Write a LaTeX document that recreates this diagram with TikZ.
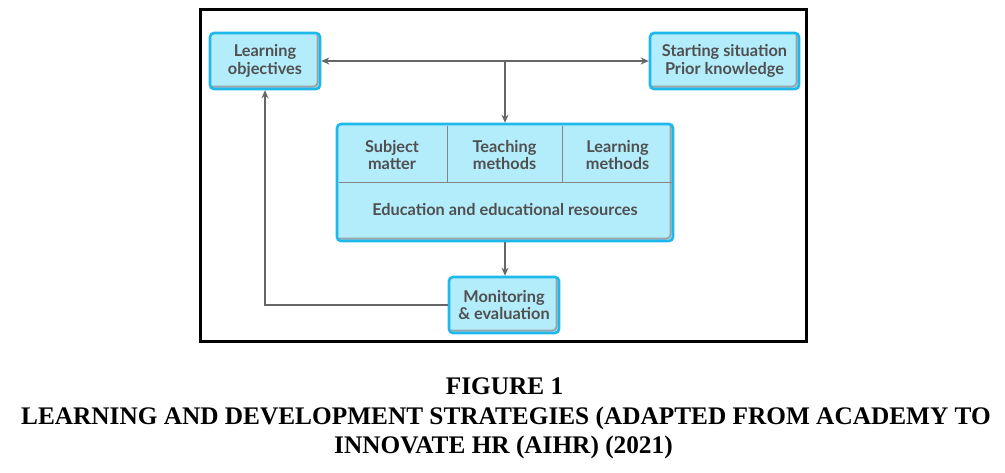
\documentclass[tikz,border=0pt]{standalone}
\usepackage{fontspec}
\setmainfont{Liberation Serif}
\newfontfamily\latofont{Lato}
\usetikzlibrary{arrows.meta}
\definecolor{boxedge}{HTML}{1FB8EC}
\definecolor{boxfill}{HTML}{B3ECFB}
\definecolor{txtgray}{HTML}{505050}
\definecolor{linegray}{HTML}{666666}
\definecolor{shadowgray}{HTML}{9AA6AA}
\tikzset{
  box/.style={rectangle, rounded corners=4pt, draw=boxedge, line width=2.6pt, fill=boxfill,
    inner sep=0pt, align=center, text=txtgray, font=\latofont\bfseries\fontsize{16.3}{17.5}\selectfont,
    path picture={\draw[shadowgray, line width=2pt]
      ([xshift=1pt,yshift=2.4pt]path picture bounding box.south west) --
      ([xshift=-2.4pt,yshift=2.4pt]path picture bounding box.south east) --
      ([xshift=-2.4pt,yshift=-1pt]path picture bounding box.north east);}},
  lbl/.style={inner sep=0pt, align=center, text=txtgray, font=\latofont\bfseries\fontsize{16.3}{17.5}\selectfont},
  conn/.style={linegray, line width=1.3pt},
  tip/.style={-{Stealth[length=8pt,width=7pt]}},
  divider/.style={linegray!80, line width=1pt},
  captext/.style={inner sep=0pt, font=\bfseries\fontsize{25.3}{30}\selectfont, anchor=base}
}
\begin{document}
\begin{tikzpicture}[x=1pt,y=-1pt]
\useasboundingbox (0,0) rectangle (1005,472);
\draw[line width=3pt] (200,9.5) rectangle (806.5,341.5);
% boxes
\node[box, minimum width=110pt, minimum height=56pt] (lo) at (265,61) {Learning\\objectives};
\node[box, minimum width=149pt, minimum height=56pt] (ss) at (724.5,61) {Starting situation\\Prior knowledge};
\node[box, minimum width=336pt, minimum height=117pt] (mid) at (505,182.5) {};
\node[box, minimum width=110pt, minimum height=56pt] (mon) at (504,305) {Monitoring\\\& evaluation};
% dividers inside middle box
\draw[divider] (338.5,182) -- (671.5,182);
\draw[divider] (447,125.5) -- (447,182);
\draw[divider] (562,125.5) -- (562,182);
\node[lbl] (sm) at (392,155) {Subject\\matter};
\node[lbl] (tm) at (504.5,155) {Teaching\\methods};
\node[lbl] (lm) at (617.5,155) {Learning\\methods};
\node[lbl] (ed) at (505,210) {Education and educational resources};
% connectors
\coordinate (j) at (505,61);
\draw[conn, {Stealth[length=8pt,width=7pt]}-{Stealth[length=8pt,width=7pt]}] (lo.east) -- (ss.west);
\draw[conn, tip] (j) -- (mid.north);
\draw[conn, tip] (mid.south) -- (mid.south |- mon.north);
\draw[conn, tip] (mon.west) -| (lo.south);
% caption
\node[captext] (c1) at (504.5,394) {FIGURE 1};
\node[captext] (c2) at (506,424) {LEARNING AND DEVELOPMENT STRATEGIES (ADAPTED FROM ACADEMY TO};
\node[captext] (c3) at (503.5,453) {INNOVATE HR (AIHR) (2021)};
\end{tikzpicture}
\end{document}
